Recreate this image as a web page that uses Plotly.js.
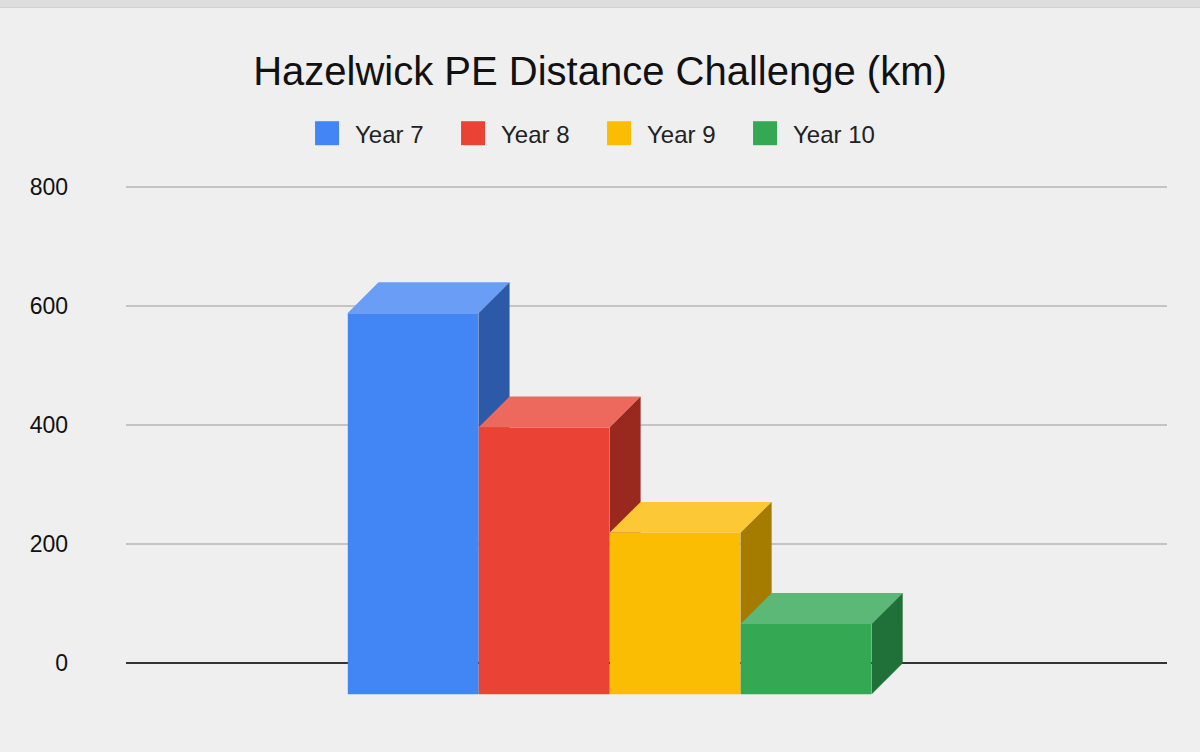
<!DOCTYPE html>
<html>
<head>
<meta charset="utf-8">
<script src="https://cdn.plot.ly/plotly-3.0.1.min.js"></script>
<style>
    html, body { margin: 0; padding: 0; background: #efefef; }
    #topbar { position: absolute; left: 0; top: 0; width: 1200px; height: 7px; background: #dedede; border-bottom: 1px solid #d2d2d2; z-index: 2; }
    #chart { width: 1200px; height: 752px; }
</style>
</head>
<body>
<div id="topbar"></div>
<div id="chart"></div>
<script>
// data (km, back edge of each bar)
var series = ['Year 7', 'Year 8', 'Year 9', 'Year 10'];
var values = [640, 448, 271, 118];
var yTicks = [0, 200, 400, 600, 800];

var frontColors = ['#4285f4', '#ea4335', '#fbbc04', '#34a853'];
var topColors = ['#6a9ef6', '#ee695d', '#fdc836', '#5cb876'];
var sideColors = ['#2c5aa8', '#99291f', '#a67c00', '#20703a'];

var CHART = {};

CHART.depthX = 0.237; // 3d offset, x units (~31px)
CHART.depthY = 52;    // 3d offset, y units (~31px)

CHART.build = function() {
    var traces = [];
    var dx = CHART.depthX, dy = CHART.depthY;

    for (var i = 0; i < series.length; i++) {
        var v = values[i];
        var x0 = i - 0.5, x1 = i + 0.5;

        // front face, shifted down by the depth
        traces.push({
            type: 'bar',
            name: series[i],
            x: [i],
            y: [v],
            base: [-dy],
            width: [0.995],
            marker: { color: frontColors[i], line: { width: 0 } },
            zorder: 2 * i,
            hoverinfo: 'name+y'
        });

        // top face
        traces.push({
            type: 'scatter',
            mode: 'lines',
            x: [x0, x1, x1 + dx, x0 + dx, x0],
            y: [v - dy, v - dy, v, v, v - dy],
            fill: 'toself',
            fillcolor: topColors[i],
            line: { width: 0, color: topColors[i] },
            showlegend: false,
            hoverinfo: 'skip',
            zorder: 2 * i + 1
        });

        // side face
        traces.push({
            type: 'scatter',
            mode: 'lines',
            x: [x1, x1, x1 + dx, x1 + dx, x1],
            y: [-dy, v - dy, v, 0, -dy],
            fill: 'toself',
            fillcolor: sideColors[i],
            line: { width: 0, color: sideColors[i] },
            showlegend: false,
            hoverinfo: 'skip',
            zorder: 2 * i + 1
        });
    }
    return traces;
};

CHART.layout = {
    width: 1200,
    height: 752,
    paper_bgcolor: '#efefef',
    plot_bgcolor: '#efefef',
    font: { family: 'Arial, "Liberation Sans", sans-serif', color: '#222222' },
    margin: { l: 126, r: 33, t: 175, b: 53, pad: 0 },
    title: {
        text: 'Hazelwick PE Distance Challenge (km)',
        font: { size: 40, color: '#111111' },
        x: 0.5,
        xanchor: 'center',
        y: 0.905,
        yanchor: 'middle'
    },
    showlegend: true,
    legend: {
        orientation: 'h',
        x: 0.1816,
        xanchor: 'left',
        y: 1.079,
        yanchor: 'middle',
        font: { size: 24, color: '#222222' },
        entrywidth: 101,
        bgcolor: 'rgba(0,0,0,0)'
    },
    barmode: 'overlay',
    xaxis: {
        range: [-2.19, 5.754],
        showgrid: false,
        zeroline: false,
        showticklabels: false,
        ticks: '',
        fixedrange: true
    },
    yaxis: {
        range: [-60, 820],
        tickvals: yTicks,
        ticktext: yTicks.map(String),
        tickfont: { size: 23, color: '#111111' },
        ticklabelstandoff: 57,
        gridcolor: '#c4c4c4',
        gridwidth: 1.5,
        zeroline: true,
        zerolinecolor: '#333333',
        zerolinewidth: 2,
        showline: false,
        ticks: '',
        fixedrange: true
    }
};

CHART.init = function() {
    var el = document.getElementById('chart');
    Plotly.newPlot(el, CHART.build(), CHART.layout, { displayModeBar: false, staticPlot: true }).then(function() {
        // bigger legend swatches set a little left of the label, like the sheets chart
        var pts = el.querySelectorAll('.legendpoints path');
        pts.forEach(function(p) {
            p.setAttribute('d', 'M4,12H-20V-12H4Z');
        });
    });
};

document.addEventListener('DOMContentLoaded', CHART.init);
</script>
</body>
</html>
